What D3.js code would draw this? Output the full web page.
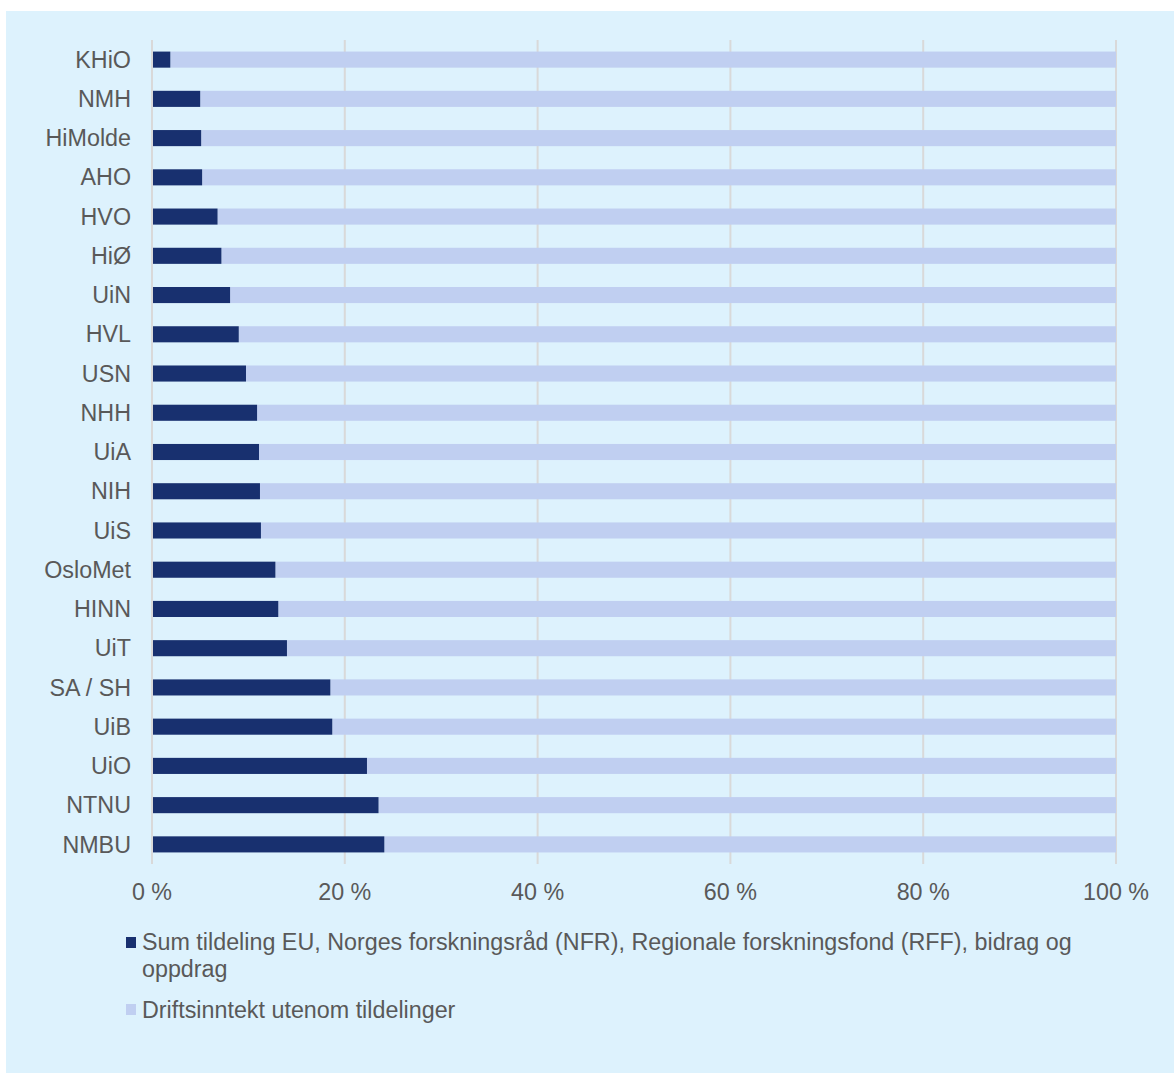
<!DOCTYPE html>
<html>
<head>
<meta charset="utf-8">
<script src="https://cdn.jsdelivr.net/npm/d3@7/dist/d3.min.js"></script>
<style>
  html, body { margin: 0; padding: 0; background: #ffffff; }
  svg { display: block; font-family: "Liberation Sans", Arial, sans-serif; }
</style>
</head>
<body>
<svg id="chart" width="1174" height="1073"></svg>
<script>
const categories = ["KHiO","NMH","HiMolde","AHO","HVO","HiØ","UiN","HVL","USN","NHH","UiA","NIH","UiS","OsloMet","HINN","UiT","SA / SH","UiB","UiO","NTNU","NMBU"];
const tildeling = [1.9,5.0,5.1,5.2,6.8,7.2,8.1,9.0,9.75,10.9,11.1,11.2,11.3,12.8,13.1,14.0,18.5,18.7,22.3,23.5,24.1];
const driftsinntekt = tildeling.map(v => 100 - v);
const seriesNames = ["Sum tildeling EU, Norges forskningsråd (NFR), Regionale forskningsfond (RFF), bidrag og", "oppdrag"];
const seriesName2 = "Driftsinntekt utenom tildelinger";
const tickValues = [0,20,40,60,80,100];
const tickLabels = ["0 %","20 %","40 %","60 %","80 %","100 %"];

const colDark = "#18306f";
const colLight = "#c0cff1";
const bg = "#ddf2fd";
const textCol = "#595959";
const fs = 23.3;

const svg = d3.select("#chart");
svg.append("rect").attr("x",6).attr("y",11).attr("width",1168).attr("height",1062).attr("fill",bg);

const x = d3.scaleLinear().domain([0,100]).range([152,1116]);
const y = d3.scaleBand().domain(categories).range([40,864]).paddingInner(0.59).paddingOuter(0.295);

// gridlines
svg.append("g").selectAll("line").data(tickValues).join("line")
  .attr("x1", d => x(d)).attr("x2", d => x(d))
  .attr("y1", 40).attr("y2", 864)
  .attr("stroke", "#d9d9d9").attr("stroke-width", 2);

const rows = categories.map((c,i) => ({c, a: tildeling[i], b: driftsinntekt[i]}));

svg.append("g").selectAll("rect").data(rows).join("rect")
  .attr("x", d => x(d.a)).attr("y", d => y(d.c))
  .attr("width", d => x(d.a + d.b) - x(d.a)).attr("height", y.bandwidth())
  .attr("fill", colLight);

svg.append("g").selectAll("rect").data(rows).join("rect")
  .attr("x", x(0) + 1).attr("y", d => y(d.c))
  .attr("width", d => x(d.a) - x(0) - 1).attr("height", y.bandwidth())
  .attr("fill", colDark);

// category labels
svg.append("g").selectAll("text").data(categories).join("text")
  .attr("x", 131).attr("y", d => y(d) + y.bandwidth()/2)
  .attr("dy", "0.35em").attr("text-anchor", "end")
  .attr("font-size", fs).attr("fill", textCol).text(d => d);

// x tick labels
svg.append("g").selectAll("text").data(tickValues).join("text")
  .attr("x", d => x(d)).attr("y", 892).attr("dy", "0.35em")
  .attr("text-anchor", "middle").attr("font-size", fs).attr("fill", textCol)
  .text((d,i) => tickLabels[i]);

// legend
const lg = svg.append("g");
lg.append("rect").attr("x",126).attr("y",937).attr("width",10).attr("height",11).attr("fill",colDark);
lg.append("text").attr("x",142).attr("y",942).attr("dy","0.35em").attr("font-size",fs).attr("fill",textCol).text(seriesNames[0]);
lg.append("text").attr("x",142).attr("y",969).attr("dy","0.35em").attr("font-size",fs).attr("fill",textCol).text(seriesNames[1]);
lg.append("rect").attr("x",126).attr("y",1004).attr("width",10).attr("height",11).attr("fill",colLight);
lg.append("text").attr("x",142).attr("y",1010).attr("dy","0.35em").attr("font-size",fs).attr("fill",textCol).text(seriesName2);
</script>
</body>
</html>
